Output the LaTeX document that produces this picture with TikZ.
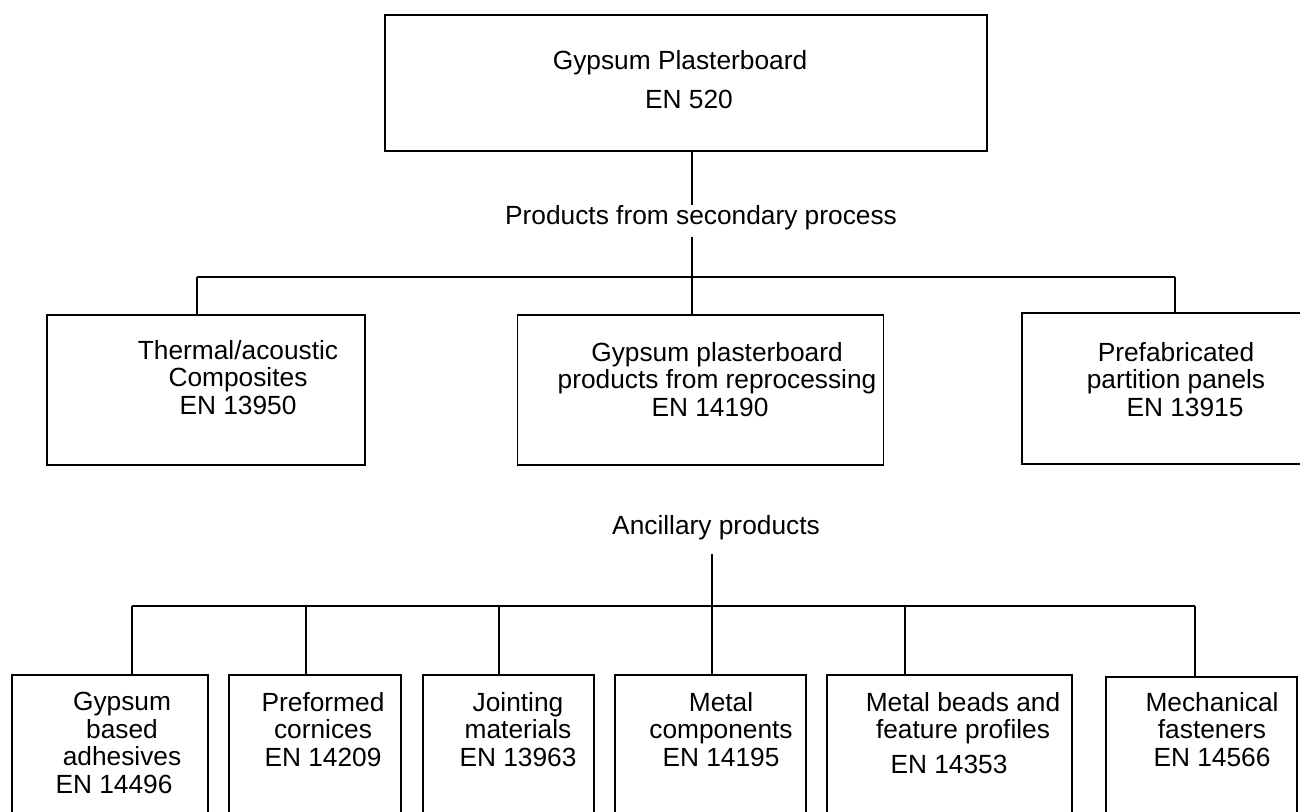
\documentclass[tikz,border=0pt]{standalone}
\usepackage{fontspec}
\setmainfont{Liberation Sans}
\begin{document}
\begin{tikzpicture}[x=0.5pt,y=-0.5pt,
  box/.style={draw, line width=0.65pt, inner sep=0pt},
  thickbox/.style={draw, line width=1pt, inner sep=0pt},
  txt/.style={inner sep=0pt, align=center, anchor=north, font=\fontsize{13.15}{13.75}\selectfont},
  lbl/.style={inner sep=0pt, anchor=north, font=\fontsize{13.15}{13.75}\selectfont},
  conn/.style={line width=0.65pt},
  bar/.style={line width=0.75pt}]
\useasboundingbox (0,0) rectangle (1300,812);
\clip (0,0) rectangle (1300,812);
% boxes
\node[box, minimum width=301pt, minimum height=68pt] (top) at (686,83) {};
\node[box, minimum width=159pt, minimum height=75pt] (L) at (206,390) {};
\node[box, minimum width=183pt, minimum height=75pt] (M) at (700.5,390) {};
\node[thickbox, minimum width=144pt, minimum height=75.5pt] (R) at (1166,388.5) {};
\node[box, minimum width=98pt, minimum height=87.5pt] (B1) at (110,762.5) {};
\node[box, minimum width=86pt, minimum height=87.5pt] (B2) at (315,762.5) {};
\node[box, minimum width=85.5pt, minimum height=87.5pt] (B3) at (508.5,762.5) {};
\node[box, minimum width=95.5pt, minimum height=87.5pt] (B4) at (710.5,762.5) {};
\node[box, minimum width=122.5pt, minimum height=87.5pt] (B5) at (949.5,762.5) {};
\node[box, minimum width=95.5pt, minimum height=86.5pt] (B6) at (1201.5,763.5) {};
% texts
\node[txt, font=\fontsize{13.15}{19.5}\selectfont] (tTop) at (680,50) {Gypsum Plasterboard\\\hspace*{9pt}EN 520};
\node[lbl] (lbl1) at (701,205) {Products from secondary process};
\node[txt] (tL) at (238,340) {Thermal/acoustic\\Composites\\EN 13950};
\node[txt] (tM) at (717,342) {Gypsum plasterboard\\products from reprocessing\\EN 14190\hspace*{7pt}};
\node[txt] (tR) at (1176,342) {Prefabricated\\partition panels\\\hspace*{9pt}EN 13915};
\node[lbl] (lbl2) at (716,515) {Ancillary products};
\node[txt] (tB1) at (122,692) {Gypsum\\based\\adhesives\\EN 14496\hspace*{8pt}};
\node[txt] (tB2) at (323,692) {Preformed\\cornices\\EN 14209};
\node[txt] (tB3) at (518,692) {Jointing\\materials\\EN 13963};
\node[txt] (tB4) at (721,692) {Metal\\components\\EN 14195};
\node[txt] (tB5) at (963,692) {Metal beads and\\feature profiles\\[3.5pt]EN 14353\hspace*{14pt}};
\node[txt] (tB6) at (1212,692) {Mechanical\\fasteners\\EN 14566};
% upper connectors
\coordinate (h1) at (692,277);
\coordinate (h1l) at (197,277);
\coordinate (h1r) at (1175,277);
\draw[conn] (h1 |- top.south) -- (h1 |- lbl1.north);
\path (h1 |- lbl1.south) ++(0,7) coordinate (g1);
\draw[conn] (g1) -- (h1 |- M.north);
\draw[conn] (h1l) -- (h1r);
\draw[conn] (h1l) -- (h1l |- L.north);
\draw[conn] (h1r) -- (h1r |- R.north);
% lower connectors
\coordinate (h2) at (712,606);
\coordinate (h2l) at (132,606);
\coordinate (h2r) at (1195,606);
\coordinate (d2) at (306,606);
\coordinate (d3) at (499,606);
\coordinate (d5) at (905,606);
\path (h2 |- lbl2.south) ++(0,14) coordinate (g2);
\draw[conn] (g2) -- (h2 |- B4.north);
\draw[bar] (h2l) -- (h2r);
\draw[conn] (h2l) -- (h2l |- B1.north);
\draw[conn] (d2) -- (d2 |- B2.north);
\draw[conn] (d3) -- (d3 |- B3.north);
\draw[conn] (d5) -- (d5 |- B5.north);
\draw[conn] (h2r) -- (h2r |- B6.north);
\end{tikzpicture}
\end{document}
